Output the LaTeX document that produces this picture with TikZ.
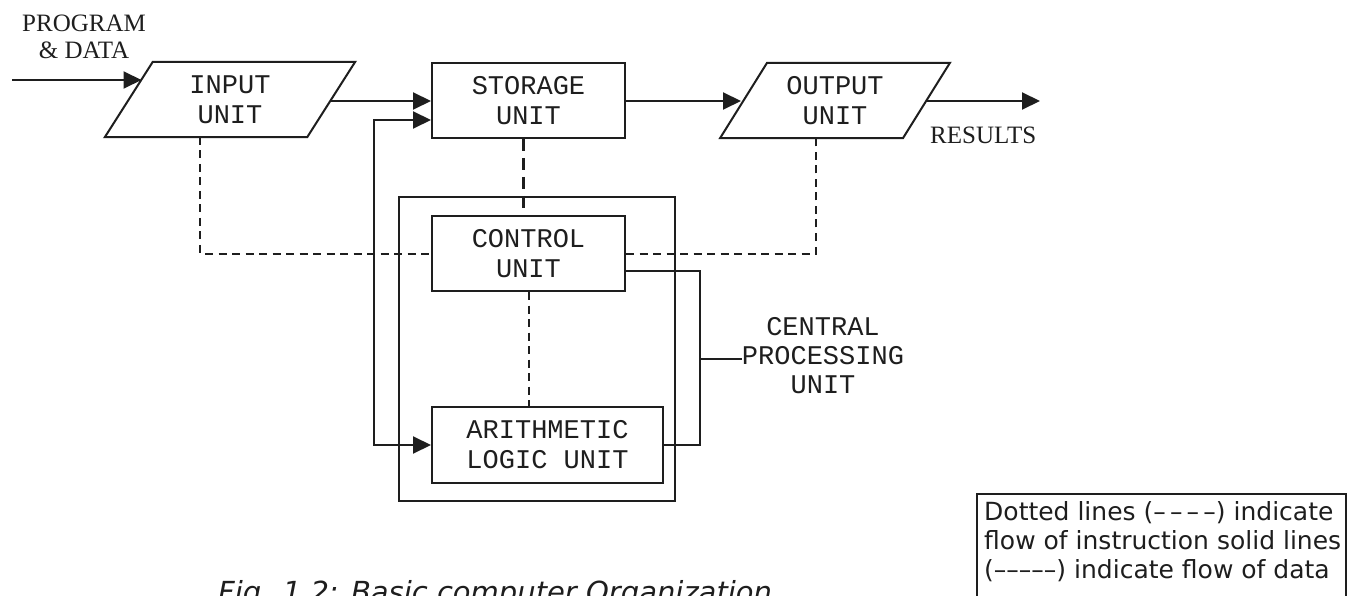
\documentclass[tikz,border=0pt]{standalone}
\usepackage{fontspec}
\usetikzlibrary{arrows.meta,calc}
\newfontfamily\boxfont{Liberation Mono}
\newfontfamily\labfont{Liberation Serif}
\newfontfamily\legfont{DejaVu Sans}
\definecolor{ink}{HTML}{1E1E1E}
\tikzset{
  unitbox/.style={draw=ink, line width=2pt, minimum width=#1, minimum height=75pt, inner sep=0pt,
    align=center, font=\boxfont\fontsize{27}{30}\selectfont, text=ink},
  plain/.style={inner sep=0pt, minimum width=#1, minimum height=75pt, align=center,
    font=\boxfont\fontsize{27}{30}\selectfont, text=ink},
  conn/.style={draw=ink, line width=2pt},
  arr/.style={conn, -{Triangle[length=18pt,width=17pt]}},
  biarr/.style={conn, {Triangle[length=18pt,width=17pt]}-{Triangle[length=18pt,width=17pt]}},
  instr/.style={draw=ink, line width=2pt, dash pattern=on 8pt off 5.5pt},
  instrthick/.style={draw=ink, line width=3pt, dash pattern=on 12pt off 7pt},
  tlabel/.style={inner sep=0pt, align=center, font=\labfont\fontsize{25}{27}\selectfont, text=ink},
}
\begin{document}
\begin{tikzpicture}[x=1pt,y=-1pt]
\clip (0,0) rectangle (1352,596);
\fill[white] (0,0) rectangle (1352,596);

% units
\node[plain=202pt] (input) at (230,99.5) {INPUT\\UNIT};
\draw[ink, line width=2pt] ($(input.south west)+(-24,0)$) -- ($(input.south east)+(-24,0)$)
   -- ($(input.north east)+(24,0)$) -- ($(input.north west)+(24,0)$) -- cycle;
\node[unitbox=193pt] (store) at (528.5,100.5) {STORAGE\\UNIT};
\node[plain=182.5pt] (output) at (835,100.5) {OUTPUT\\UNIT};
\draw[ink, line width=2pt] ($(output.south west)+(-23.5,0)$) -- ($(output.south east)+(-23.5,0)$)
   -- ($(output.north east)+(23.5,0)$) -- ($(output.north west)+(23.5,0)$) -- cycle;
\node[draw=ink, line width=1.6pt, minimum width=276pt, minimum height=304pt, inner sep=0pt] (cpu) at (537,349) {};
\node[unitbox=193pt] (control) at (528.5,253.5) {CONTROL\\UNIT};
\node[unitbox=231pt, minimum height=76pt] (alu) at (547.5,445) {ARITHMETIC\\LOGIC UNIT};

% labels
\node[tlabel] (pd) at (84,36.5) {PROGRAM\\\& DATA};
\node[tlabel, anchor=west] (res) at (930,135) {RESULTS};
\node[inner sep=0pt, align=center, font=\boxfont\fontsize{27}{29}\selectfont, text=ink] (cpulab) at (823,356) {CENTRAL\\PROCESSING\\UNIT};

% connection points
\coordinate (pdin) at (12,80);
\coordinate (inL) at (141.5,80);
\coordinate (inR) at (330,101);
\coordinate (inB) at (200,137);
\coordinate (outL) at (741,101);
\coordinate (outR) at (926,101);
\coordinate (outB) at (816,138);
\coordinate (resEnd) at (1040,101);
\coordinate (br) at (700,359);
\coordinate (loopx) at (374,120);

% data flow (solid)
\draw[arr] (pdin) -- (inL);
\draw[arr] (inR) -- (inR -| store.west);
\draw[arr] (store.east |- outL) -- (outL);
\draw[arr] (outR) -- (resEnd);
\draw[biarr] (loopx -| store.west) -- (loopx) |- (alu.west);
\draw[conn] ($(control.east)+(0,17.5)$) -| (br) |- (alu.east);
\draw[conn] (br) -- (br -| cpulab.west);

% instruction flow (dashed)
\draw[instrthick] ($(store.south)+(-5,0)$) -- ($(control.north)+(-5,0)$);
\draw[instr] (inB) |- (control.west);
\draw[instr] (control.east) -| (outB);
\draw[instr] (control.south) -- (control.south |- alu.north);

% legend
\node[draw=ink, line width=1.5pt, anchor=north west, minimum width=369pt, minimum height=120pt,
      inner sep=0pt] (legbox) at (976,493) {};
\node[anchor=north west, inner sep=0pt, align=left, font=\legfont\fontsize{25}{29}\selectfont, text=ink]
   (legend) at (984,501) {Dotted lines (–\,–\,–\,–) indicate\\flow of instruction solid lines\\(–––––) indicate flow of data};

% caption
\node[anchor=base west, inner sep=0pt, font=\legfont\itshape\fontsize{29}{33}\selectfont, text=ink]
   (caption) at (218,602) {Fig. 1.2: Basic computer Organization};
\end{tikzpicture}
\end{document}
